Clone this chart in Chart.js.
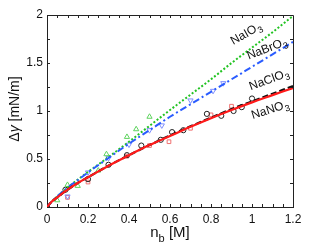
<!DOCTYPE html>
<html>
<head>
<meta charset="utf-8">
<script src="https://cdn.jsdelivr.net/npm/chart.js@4/dist/chart.umd.min.js"></script>
<style>
  html, body { margin: 0; padding: 0; background: #fff; }
  #wrap { width: 310px; height: 250px; }
</style>
</head>
<body>
<div id="wrap"><canvas id="c" width="310" height="250"></canvas></div>
<script>
// fitted curves
const curveX   = [0, 0.02, 0.05, 0.1, 0.15, 0.2, 0.3, 0.4, 0.5, 0.6, 0.7, 0.8, 0.9, 1.0, 1.1, 1.2];
const fitIO3   = [0, 0.05, 0.11, 0.20, 0.285, 0.365, 0.52, 0.68, 0.845, 1.01, 1.17, 1.33, 1.50, 1.66, 1.82, 1.99];
const fitBrO3  = [0, 0.05, 0.11, 0.20, 0.28, 0.36, 0.51, 0.66, 0.80, 0.94, 1.07, 1.20, 1.33, 1.46, 1.59, 1.72];
const fitClO3  = [0, 0.05, 0.10, 0.18, 0.25, 0.31, 0.43, 0.54, 0.645, 0.745, 0.84, 0.93, 1.02, 1.10, 1.18, 1.26];
const fitNO3   = [0, 0.05, 0.10, 0.18, 0.25, 0.31, 0.43, 0.54, 0.645, 0.74, 0.835, 0.925, 1.01, 1.09, 1.165, 1.24];

// measured points
const io3X  = [0.05, 0.1, 0.15, 0.25, 0.29, 0.39, 0.435, 0.5];
const io3Y  = [0.07, 0.23, 0.22, 0.38, 0.55, 0.73, 0.81, 0.94];
const bro3X = [0.1, 0.2, 0.3, 0.4, 0.5, 0.56, 0.7, 0.81, 0.86];
const bro3Y = [0.11, 0.36, 0.51, 0.65, 0.80, 0.85, 1.11, 1.21, 1.29];
const clo3X = [0, 0.09, 0.2, 0.3, 0.39, 0.46, 0.555, 0.61, 0.665, 0.78, 0.85, 0.91, 0.95, 1.0];
const clo3Y = [0, 0.18, 0.29, 0.44, 0.54, 0.64, 0.70, 0.78, 0.80, 0.97, 0.95, 1.00, 1.04, 1.13];
const no3X  = [0, 0.1, 0.2, 0.39, 0.5, 0.595, 0.7, 0.8, 0.9];
const no3Y  = [0, 0.10, 0.26, 0.53, 0.64, 0.68, 0.82, 0.96, 1.05];

const xTicks = [0, 0.2, 0.4, 0.6, 0.8, 1, 1.2];
const yTicks = [0, 0.5, 1, 1.5, 2];

const pts = (xs, ys) => xs.map((x, i) => ({ x: x, y: ys[i] }));

function lineSet(ys, color, dash, width) {
  return {
    data: pts(curveX, ys), borderColor: color, borderWidth: width, borderDash: dash,
    pointRadius: 0, showLine: true, tension: 0.4, cubicInterpolationMode: 'monotone', fill: false
  };
}
function markSet(xs, ys, color, style, rot, r) {
  return {
    data: pts(xs, ys), borderColor: color, backgroundColor: 'rgba(0,0,0,0)', borderWidth: 1,
    pointStyle: style, rotation: rot || 0, pointRadius: r, showLine: false
  };
}

const FONT = '"Liberation Sans", Arial, sans-serif';

// rotated labels with subscript
const labels = [
  { base: 'NaIO', sub: '3', x: 246, y: 34, a: -30 },
  { base: 'NaBrO', sub: '3', x: 267, y: 49, a: -21 },
  { base: 'NaClO', sub: '3', x: 269, y: 80, a: -20 },
  { base: 'NaNO', sub: '3', x: 270, y: 110, a: -18 }
];

const decor = {
  id: 'decor',
  afterDraw(chart) {
    const ctx = chart.ctx;
    const xs = chart.scales.x, ys = chart.scales.y;
    const a = chart.chartArea;
    ctx.save();
    // inward ticks on all four sides
    ctx.strokeStyle = '#222';
    ctx.lineWidth = 1;
    ctx.beginPath();
    for (let v = 0.05; v < 1.2; v += 0.05) {
      const p = Math.round(xs.getPixelForValue(v)) + 0.5;
      ctx.moveTo(p, a.bottom); ctx.lineTo(p, a.bottom - 3);
      ctx.moveTo(p, a.top); ctx.lineTo(p, a.top + 3);
    }
    for (let v = 0.25; v < 2; v += 0.25) {
      const p = Math.round(ys.getPixelForValue(v)) + 0.5;
      ctx.moveTo(a.left, p); ctx.lineTo(a.left + 3, p);
      ctx.moveTo(a.right, p); ctx.lineTo(a.right - 3, p);
    }
    ctx.stroke();

    // curve labels
    ctx.fillStyle = '#111';
    labels.forEach(l => {
      ctx.save();
      ctx.translate(l.x, l.y);
      ctx.rotate(l.a * Math.PI / 180);
      ctx.font = '12px ' + FONT;
      const w1 = ctx.measureText(l.base).width;
      ctx.font = '9px ' + FONT;
      const w2 = ctx.measureText(l.sub).width;
      const x0 = -(w1 + w2) / 2;
      ctx.textBaseline = 'middle';
      ctx.font = '12px ' + FONT;
      ctx.fillText(l.base, x0, 0);
      ctx.font = '9px ' + FONT;
      ctx.fillText(l.sub, x0 + w1 + 0.5, 4);
      ctx.restore();
    });

    // x title: n_b [M]
    ctx.save();
    ctx.textBaseline = 'alphabetic';
    ctx.font = '15px ' + FONT;
    const t1 = 'n', t3 = ' [M]';
    const w1 = ctx.measureText(t1).width, w3 = ctx.measureText(t3).width;
    ctx.font = '11px ' + FONT;
    const w2 = ctx.measureText('b').width;
    let x0 = 170 - (w1 + w2 + w3) / 2;
    ctx.font = '15px ' + FONT;
    ctx.fillText(t1, x0, 237);
    ctx.font = '11px ' + FONT;
    ctx.fillText('b', x0 + w1, 242);
    ctx.font = '15px ' + FONT;
    ctx.fillText(t3, x0 + w1 + w2, 237);
    ctx.restore();

    // y title: Δγ [mN/m]
    ctx.save();
    ctx.translate(19, 109);
    ctx.rotate(-Math.PI / 2);
    ctx.textBaseline = 'alphabetic';
    ctx.font = '14px ' + FONT;
    const s1 = '\u0394', s3 = ' [mN/m]';
    const a1 = ctx.measureText(s1).width, a3 = ctx.measureText(s3).width;
    ctx.font = 'italic 14px ' + FONT;
    const a2 = ctx.measureText('\u03b3').width;
    x0 = -(a1 + a2 + a3) / 2;
    ctx.font = '14px ' + FONT;
    ctx.fillText(s1, x0, 0);
    ctx.font = 'italic 14px ' + FONT;
    ctx.fillText('\u03b3', x0 + a1, 0);
    ctx.font = '14px ' + FONT;
    ctx.fillText(s3, x0 + a1 + a2, 0);
    ctx.restore();

    ctx.restore();
  }
};

const fmt = v => String(+(+v).toFixed(2));

new Chart(document.getElementById('c'), {
  type: 'scatter',
  data: {
    datasets: [
      lineSet(fitNO3, '#ff1a1a', [], 2.2),
      lineSet(fitClO3, '#111111', [6, 3], 2.2),
      lineSet(fitBrO3, '#2a5cff', [7, 3, 2, 3], 2),
      lineSet(fitIO3, '#22c322', [2, 2], 2),
      markSet(io3X, io3Y, '#5fd35f', 'triangle', 0, 3),
      markSet(bro3X, bro3Y, '#7f8fff', 'triangle', 180, 3),
      markSet(clo3X, clo3Y, '#222222', 'circle', 0, 2.6),
      markSet(no3X, no3Y, '#f07070', 'rect', 0, 2.6)
    ]
  },
  options: {
    responsive: false,
    animation: false,
    devicePixelRatio: 1,
    layout: { padding: { top: 15, right: 17, left: 0, bottom: 0 } },
    plugins: { legend: { display: false }, tooltip: { enabled: false } },
    scales: {
      x: {
        type: 'linear', min: 0, max: 1.2,
        afterBuildTicks: s => { s.ticks = xTicks.map(v => ({ value: v })); },
        afterFit: s => { s.height = 43; },
        grid: { display: true, drawOnChartArea: false, drawTicks: false },
        border: { display: true, color: '#222', width: 1 },
        ticks: { color: '#111', font: { size: 12, family: FONT }, padding: 5, maxRotation: 0, callback: fmt }
      },
      y: {
        type: 'linear', min: 0, max: 2,
        afterBuildTicks: s => { s.ticks = yTicks.map(v => ({ value: v })); },
        afterFit: s => { s.width = 47; },
        grid: { display: true, drawOnChartArea: false, drawTicks: false },
        border: { display: true, color: '#222', width: 1 },
        ticks: { color: '#111', font: { size: 12, family: FONT }, padding: 4, callback: fmt }
      }
    }
  },
  plugins: [decor, {
    id: 'box',
    afterDatasetsDraw(chart) {
      const a = chart.chartArea, ctx = chart.ctx;
      ctx.save();
      ctx.strokeStyle = '#222'; ctx.lineWidth = 1;
      ctx.beginPath();
      ctx.moveTo(a.left, a.top + 0.5); ctx.lineTo(a.right + 0.5, a.top + 0.5);
      ctx.lineTo(a.right + 0.5, a.bottom);
      ctx.stroke();
      ctx.restore();
    }
  }]
});
</script>
</body>
</html>
